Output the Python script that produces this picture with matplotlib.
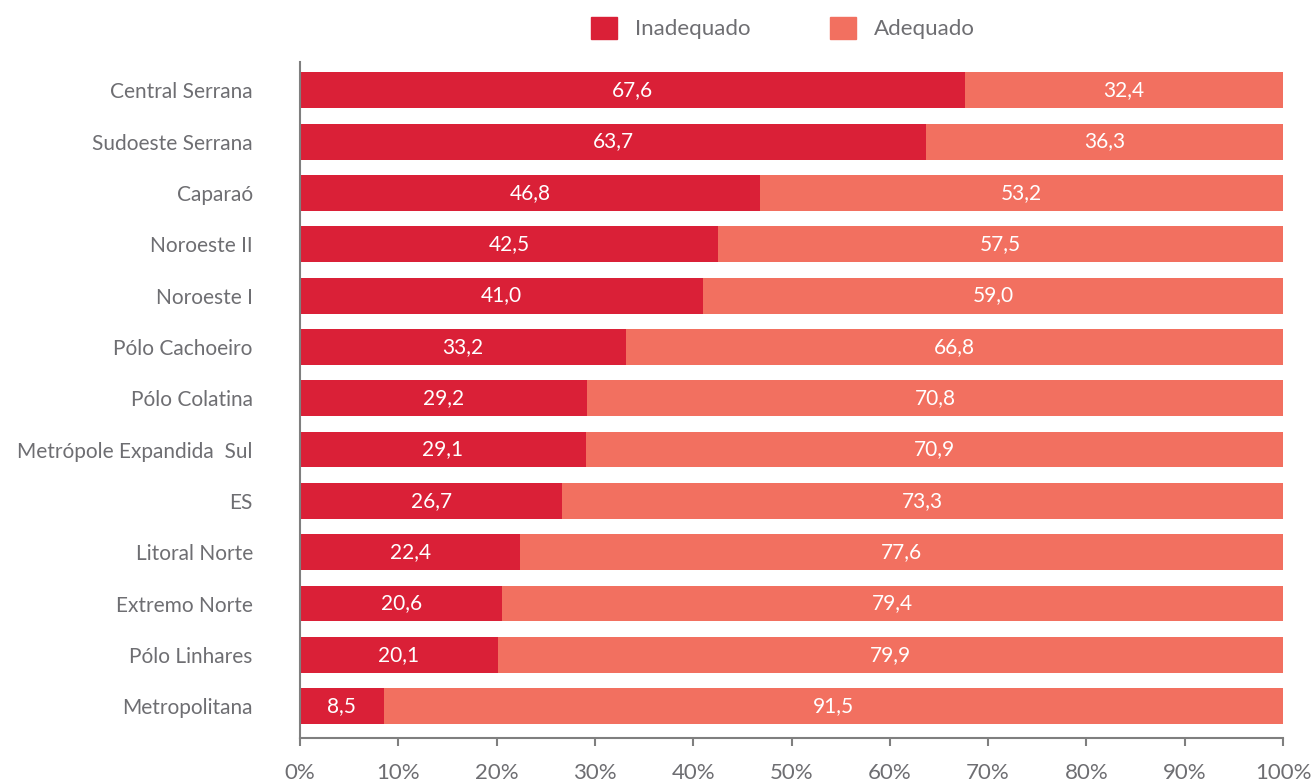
import matplotlib
matplotlib.use("Agg")
import matplotlib.pyplot as plt
from matplotlib.patches import Patch

regions = ["Central Serrana", "Sudoeste Serrana", "Caparaó", "Noroeste II", "Noroeste I",
           "Pólo Cachoeiro", "Pólo Colatina", "Metrópole Expandida  Sul", "ES",
           "Litoral Norte", "Extremo Norte", "Pólo Linhares", "Metropolitana"]
inadequado = [67.6, 63.7, 46.8, 42.5, 41.0, 33.2, 29.2, 29.1, 26.7, 22.4, 20.6, 20.1, 8.5]
adequado = [32.4, 36.3, 53.2, 57.5, 59.0, 66.8, 70.8, 70.9, 73.3, 77.6, 79.4, 79.9, 91.5]
xticks = [0, 10, 20, 30, 40, 50, 60, 70, 80, 90, 100]

c_inad = "#DA2037"
c_adeq = "#F27060"
grey = "#6E6E72"

plt.rcParams["font.family"] = ["Lato", "DejaVu Sans"]

W, H = 1312, 782
fig = plt.figure(figsize=(W / 100, H / 100), dpi=100)
ax = fig.add_axes([300 / W, 1 - 738 / H, (1283 - 300) / W, (738 - 62) / H])

y = list(range(len(regions)))
ax.barh(y, inadequado, height=0.7, color=c_inad)
ax.barh(y, adequado, left=inadequado, height=0.7, color=c_adeq)

def fmt(v):
    return f"{v:.1f}".replace(".", ",")

for yi, a, b in zip(y, inadequado, adequado):
    ax.text(a / 2, yi, fmt(a), ha="center", va="center", color="white", fontsize=15)
    ax.text(a + b / 2, yi, fmt(b), ha="center", va="center", color="white", fontsize=15)

ax.set_xlim(0, 100)
ax.set_ylim(len(regions) - 1 + 0.62, -0.55)
ax.set_yticks(y)
ax.set_yticklabels(regions, fontsize=15, color=grey)
ax.set_xticks(xticks)
ax.set_xticklabels([f"{t}%" for t in xticks], fontsize=16, color=grey)

for s in ["top", "right"]:
    ax.spines[s].set_visible(False)
for s in ["left", "bottom"]:
    ax.spines[s].set_color("#7F7F7F")
    ax.spines[s].set_linewidth(1.5)
ax.tick_params(axis="y", length=0, pad=34)
ax.tick_params(axis="x", length=6, width=1.5, color="#7F7F7F", pad=12)

handles = [Patch(color=c_inad, label="Inadequado"), Patch(color=c_adeq, label="Adequado")]
fig.legend(handles=handles, loc="center", bbox_to_anchor=(783 / W, 1 - 28 / H), ncol=2,
           frameon=False, fontsize=16, handlelength=1.15, handleheight=1.15,
           handletextpad=0.8, columnspacing=3.6, labelcolor=grey)

fig.savefig("out.png", dpi=100)
